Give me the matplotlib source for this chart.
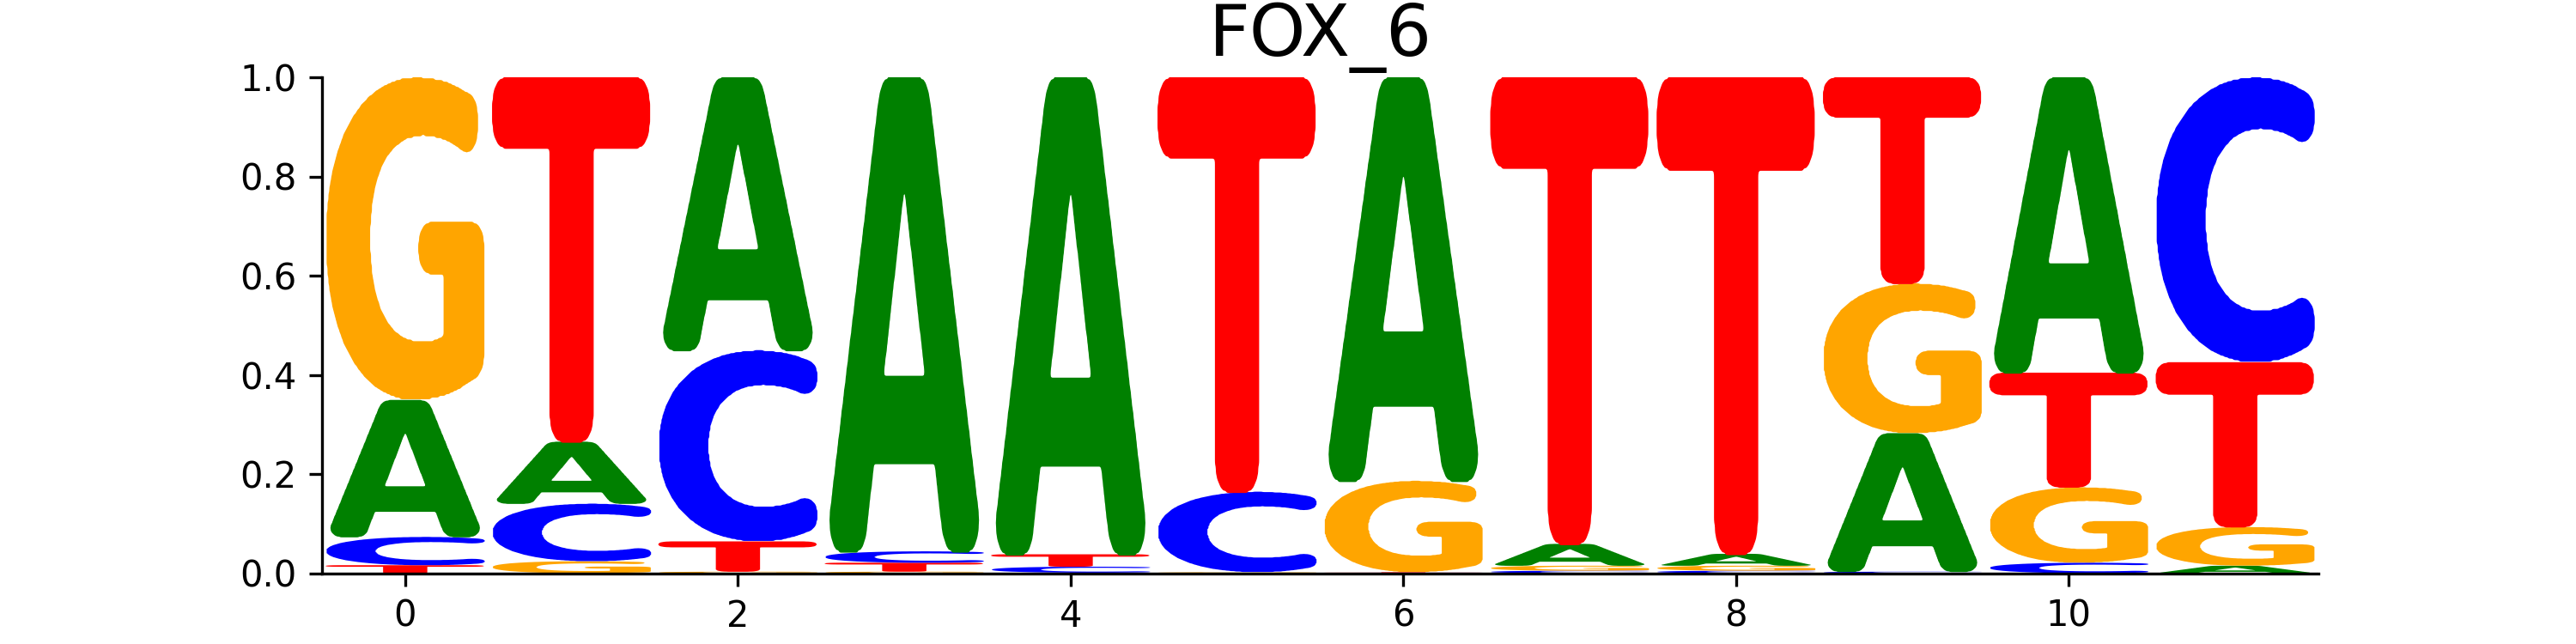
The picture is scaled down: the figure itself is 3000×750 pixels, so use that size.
import matplotlib
matplotlib.use('Agg')
import matplotlib.pyplot as plt
import numpy as np
from matplotlib.font_manager import FontProperties
from matplotlib.path import Path
from matplotlib.textpath import TextPath

# 每个位置的碱基概率 (列和为1)
positions = list(range(12))
bases = ['A', 'C', 'G', 'T']
prob_a = [0.276, 0.125, 0.551, 0.956, 0.962, 0.001, 0.814, 0.044, 0.024, 0.279, 0.596, 0.015]
prob_c = [0.057, 0.116, 0.385, 0.023, 0.012, 0.162, 0.001, 0.005, 0.005, 0.003, 0.021, 0.575]
prob_g = [0.651, 0.024, 0.003, 0.003, 0.001, 0.001, 0.184, 0.010, 0.010, 0.302, 0.152, 0.078]
prob_t = [0.016, 0.735, 0.061, 0.018, 0.025, 0.836, 0.001, 0.941, 0.961, 0.416, 0.231, 0.332]
title = 'FOX_6'

colors = {'A': 'green', 'C': 'blue', 'G': 'orange', 'T': 'red'}
font = FontProperties(family='DejaVu Sans', weight='bold')


def _blur(a, s):
    """
    高斯模糊(可分离卷积)
    """
    r = int(3 * s) + 1
    k = np.exp(-0.5 * (np.arange(-r, r + 1) / s) ** 2)
    k /= k.sum()
    a = np.apply_along_axis(lambda m: np.convolve(m, k, mode='same'), 0, a)
    a = np.apply_along_axis(lambda m: np.convolve(m, k, mode='same'), 1, a)
    return a


def _morph(mask, r, erode=True):
    """
    圆盘结构元的腐蚀/膨胀
    """
    out = mask.copy()
    for dy in range(-r, r + 1):
        for dx in range(-r, r + 1):
            if dx * dx + dy * dy <= r * r:
                sh = np.roll(np.roll(mask, dy, 0), dx, 1)
                out = (out & sh) if erode else (out | sh)
    return out


def glyph_field(char, step=0.004, radius=0.05, pad=0.1):
    """
    字母栅格化后做开运算, 让外角变圆
    :return: 网格坐标(相对bbox归一化)和标量场
    """
    # 用大字号取轮廓, 曲线才分得够细
    big = 200.
    path = TextPath((0, 0), char, size=big, prop=font)
    polys = [p / big for p in path.to_polygons()]
    allv = np.vstack(polys)
    x0, y0 = allv.min(axis=0)
    x1, y1 = allv.max(axis=0)
    gx = np.arange(x0 - pad, x1 + pad, step)
    gy = np.arange(y0 - pad, y1 + pad, step)
    GX, GY = np.meshgrid(gx, gy)
    pts = np.c_[GX.ravel(), GY.ravel()]
    # even-odd: 每个闭合轮廓异或
    inside = np.zeros(len(pts), dtype=bool)
    for poly in polys:
        inside ^= Path(poly).contains_points(pts)
    inside = inside.reshape(GX.shape)
    r = int(round(radius / step))
    opened = _morph(_morph(inside, r, erode=True), r, erode=False)
    field = _blur(opened.astype(float), 1.0)
    u = (GX - x0) / (x1 - x0)
    v = (GY - y0) / (y1 - y0)
    return u, v, field


fields = {c: glyph_field(c) for c in bases}


def draw_glyph(ax, char, x, floor, height, width=0.95, color='gray'):
    """
    把字母拉伸到 [x-w/2, x+w/2] x [floor, floor+height] 的框里
    """
    u, v, field = fields[char]
    X = x - width / 2 + u * width
    Y = floor + v * height
    ax.contourf(X, Y, field, levels=[0.5, 10], colors=[color], antialiased=True)


def draw_logo(ax, probs):
    """
    小的在下面，大的在上面
    """
    probs = np.array(probs)
    for i, x in enumerate(positions):
        col = probs[:, i]
        order = np.argsort(col, kind='stable')
        floor = 0.
        for j in order:
            h = col[j]
            if h > 0:
                draw_glyph(ax, bases[j], x, floor, h, color=colors[bases[j]])
            floor += h


fig, ax = plt.subplots(figsize=(10, 2.5), dpi=300)
draw_logo(ax, [prob_a, prob_c, prob_g, prob_t])

ax.axhline(0, color='black', lw=0.5, zorder=5)
ax.set_xlim(positions[0] - 0.5, positions[-1] + 0.5)
ax.set_ylim(0, 1)
ax.set_xticks([0, 2, 4, 6, 8, 10])
ax.spines['top'].set_visible(False)
ax.spines['right'].set_visible(False)
ax.set_title(title, fontsize=20)

fig.savefig('out.png', dpi=300)
